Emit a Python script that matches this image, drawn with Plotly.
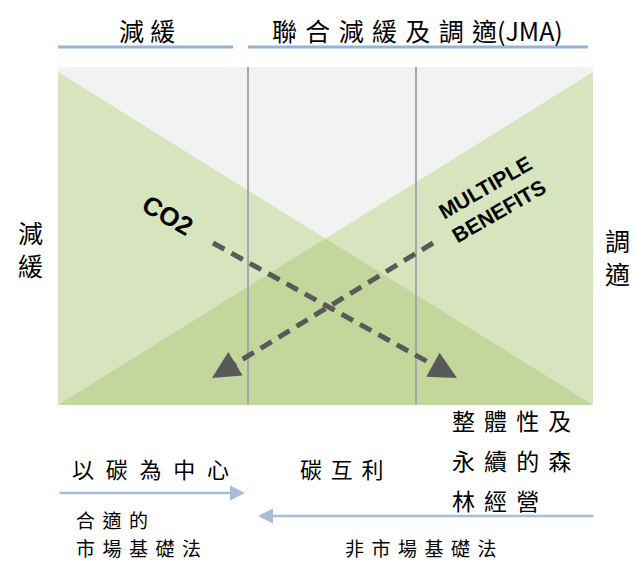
import math
import plotly.graph_objects as go

# ---- text content ----
header_labels = ["減緩", "聯合減緩及調適(JMA)"]
side_labels = ["減緩", "調適"]
arrow_labels = ["CO2", "MULTIPLE<br>BENEFITS"]
bottom_top_labels = ["以碳為中心", "碳互利"]
bottom_right_lines = ["整體性及", "永續的森", "林經營"]
left_method_lines = ["合適的", "市場基礎法"]
right_method_label = "非市場基礎法"

# ---- layout geometry ----
W, H = 635, 562
BX0, BX1, BY0, BY1 = 58, 593, 67, 405
GY = 72  # where the green triangles reach at the top corners
DIVIDERS = [248, 416]

GREY = "#F2F2F2"
LIGHT = "#D7E4BD"
DARK = "#C3D69B"
CJK = "Noto Sans CJK TC"
ARROW_GREY = "#595959"


def spaced(s, sp="\u2004"):
    out = ""
    for i, ch in enumerate(s):
        out += ch
        if i < len(s) - 1 and ord(ch) > 0x2E80 and ord(s[i + 1]) > 0x2E80:
            out += sp
    return out


fig = go.Figure()

def poly(xs, ys, color):
    fig.add_trace(go.Scatter(x=xs + [xs[0]], y=ys + [ys[0]], mode="lines",
                             fill="toself", fillcolor=color,
                             line=dict(width=0, color=color),
                             hoverinfo="skip", showlegend=False))

poly([BX0, BX1, BX1, BX0], [BY0, BY0, BY1, BY1], GREY)
poly([BX0, BX0, BX1], [GY, BY1, BY1], LIGHT)
poly([BX1, BX1, BX0], [GY, BY1, BY1], LIGHT)
cx = (BX0 + BX1) / 2
cy = (GY + BY1) / 2
poly([BX0, cx, BX1], [BY1, cy, BY1], DARK)

for dx in DIVIDERS:
    fig.add_trace(go.Scatter(x=[dx, dx], y=[BY0, BY1], mode="lines",
                             line=dict(color="#A6A6A6", width=2),
                             hoverinfo="skip", showlegend=False))

# header lines
for x0, x1 in [(58, 233), (248, 588)]:
    fig.add_trace(go.Scatter(x=[x0, x1], y=[47, 47], mode="lines",
                             line=dict(color="#95B3D7", width=3),
                             hoverinfo="skip", showlegend=False))

# dashed cross arrows
BACK = 16
for (x0, y0, x1, y1) in [(213, 243, 457, 378), (433, 243, 212, 378)]:
    d = math.hypot(x1 - x0, y1 - y0)
    bx = x1 - (x1 - x0) / d * BACK
    by = y1 - (y1 - y0) / d * BACK
    fig.add_trace(go.Scatter(x=[x0, bx], y=[y0, by], mode="lines",
                             line=dict(color=ARROW_GREY, width=5, dash="13px,8px"),
                             hoverinfo="skip", showlegend=False))
    fig.add_annotation(x=x1, y=y1, ax=bx, ay=by, xref="x", yref="y",
                       axref="x", ayref="y", text="", showarrow=True,
                       arrowhead=2, arrowsize=1.1, arrowwidth=5,
                       arrowcolor=ARROW_GREY, standoff=0, startstandoff=0)

# bottom blue arrows
for (x0, x1, y) in [(58, 245, 493), (595, 258, 516)]:
    fig.add_annotation(x=x1, y=y, ax=x0, ay=y, xref="x", yref="y", axref="x", ayref="y",
                       text="", showarrow=True, arrowhead=2, arrowsize=1.2,
                       arrowwidth=2.5, arrowcolor="#A6BDD7")

def txt(x, y, s, size, anchor="center", angle=0, family=CJK, color="#000000"):
    fig.add_annotation(x=x, y=y, xref="x", yref="y", text=s, showarrow=False,
                       xanchor=anchor, yanchor="middle", textangle=angle,
                       font=dict(family=family, size=size, color=color))

txt(147, 30, spaced(header_labels[0], "\u2005"), 25)
txt(417, 30, spaced(header_labels[1], "\u2004"), 25)

for i, ch in enumerate(side_labels[0]):
    txt(30, 232 + i * 33, ch, 25)
for i, ch in enumerate(side_labels[1]):
    txt(617, 240 + i * 33, ch, 25)

txt(167, 215, "<b>" + arrow_labels[0] + "</b>", 26, angle=30, family="Liberation Sans")
txt(492, 199, "<b>" + arrow_labels[1] + "</b>", 21, angle=-30, family="Liberation Sans")

txt(70, 468, spaced(bottom_top_labels[0], "\u2004\u2009"), 22, anchor="left")
txt(341, 468, spaced(bottom_top_labels[1], "\u2004\u200a"), 22)
for i, line in enumerate(bottom_right_lines):
    txt(450, 420 + i * 40, spaced(line, "\u2004\u200a"), 23, anchor="left")
for i, line in enumerate(left_method_lines):
    txt(74, 519 + i * 28, spaced(line, "\u2004\u200a"), 19, anchor="left")
txt(421, 547, spaced(right_method_label, "\u2004\u200a"), 19)

fig.update_xaxes(range=[0, W], visible=False, fixedrange=True)
fig.update_yaxes(range=[H, 0], visible=False, fixedrange=True)
fig.update_layout(width=W, height=H, margin=dict(l=0, r=0, t=0, b=0),
                  paper_bgcolor="white", plot_bgcolor="white", showlegend=False)

fig.write_html("out.html", config={"displayModeBar": False},
               post_script="document.body.style.margin='0';document.body.style.overflow='hidden';")
